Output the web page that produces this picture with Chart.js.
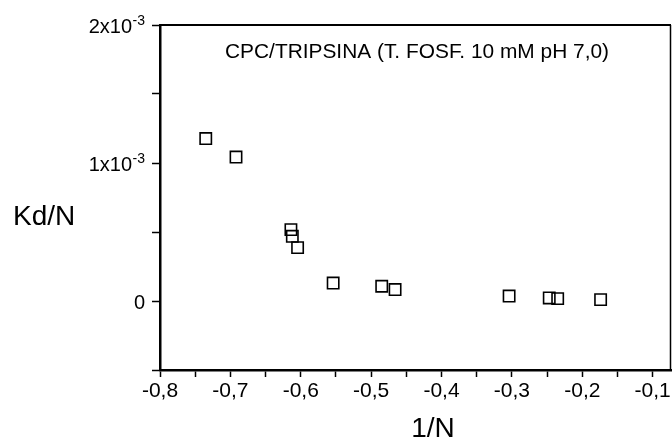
<!DOCTYPE html>
<html>
<head>
<meta charset="utf-8">
<script src="https://cdn.jsdelivr.net/npm/chart.js@4/dist/chart.umd.min.js"></script>
<style>
  html, body { margin: 0; padding: 0; background: #fff; }
  #wrap { width: 672px; height: 442px; }
</style>
</head>
<body>
<div id="wrap"><canvas id="c" width="672" height="442"></canvas></div>
<script>
// ---- data ----
const xValues = [-0.735, -0.692, -0.614, -0.612, -0.6045, -0.554, -0.485, -0.466, -0.304, -0.247, -0.235, -0.174];
const yValues = [1.177e-3, 1.043e-3, 0.517e-3, 0.469e-3, 0.387e-3, 0.13e-3, 0.107e-3, 0.083e-3, 0.036e-3, 0.022e-3, 0.017e-3, 0.010e-3];
const xTicks = [-0.8, -0.75, -0.7, -0.65, -0.6, -0.55, -0.5, -0.45, -0.4, -0.35, -0.3, -0.25, -0.2, -0.15, -0.1];
const yTicks = [-0.5e-3, 0, 0.5e-3, 1e-3, 1.5e-3, 2e-3];
const yTickLabels = [
  { value: 0, mant: '0', exp: '' },
  { value: 1e-3, mant: '1x10', exp: '-3' },
  { value: 2e-3, mant: '2x10', exp: '-3' }
];
const xTitle = '1/N';
const yTitle = 'Kd/N';
const annotation = 'CPC/TRIPSINA (T. FOSF. 10 mM pH 7,0)';

const FONT = '"Liberation Sans", Arial, Helvetica, sans-serif';
const points = xValues.map((x, i) => ({ x: x, y: yValues[i] }));

function isMajorX(v) { return Math.abs(v * 10 - Math.round(v * 10)) < 1e-6; }

const overlay = {
  id: 'overlay',
  afterDraw(chart) {
    const ctx = chart.ctx;
    const a = chart.chartArea;
    const ys = chart.scales.y;
    ctx.save();
    // top and right frame lines
    ctx.strokeStyle = '#000';
    ctx.lineWidth = 2;
    ctx.beginPath();
    ctx.moveTo(a.left, a.top);
    ctx.lineTo(a.right, a.top);
    ctx.stroke();
    ctx.lineWidth = 1.5;
    ctx.beginPath();
    ctx.moveTo(a.right - 0.5, a.top);
    ctx.lineTo(a.right - 0.5, a.bottom);
    ctx.stroke();

    // y tick labels with superscript exponent
    ctx.fillStyle = '#000';
    ctx.textBaseline = 'alphabetic';
    ctx.textAlign = 'right';
    const rightEdge = a.left - 15;
    yTickLabels.forEach(t => {
      const py = ys.getPixelForValue(t.value);
      const base = py + 8;
      let x = rightEdge;
      if (t.exp) {
        ctx.font = '14px ' + FONT;
        ctx.fillText(t.exp, x, base - 8);
        x -= ctx.measureText(t.exp).width + 0.5;
      }
      ctx.font = '20px ' + FONT;
      ctx.fillText(t.mant, x, base);
    });

    // axis titles
    ctx.font = '28px ' + FONT;
    ctx.textAlign = 'left';
    ctx.fillText(yTitle, 13, 225);
    ctx.textAlign = 'center';
    ctx.fillText(xTitle, 433, 437);

    // annotation
    ctx.font = '21px ' + FONT;
    ctx.textAlign = 'left';
    ctx.fillText(annotation, 225, 58, 384);
    ctx.restore();
  }
};

new Chart(document.getElementById('c'), {
  type: 'scatter',
  data: {
    datasets: [{
      data: points,
      pointStyle: 'rect',
      pointRadius: 8,
      pointHoverRadius: 8,
      borderColor: '#000',
      backgroundColor: 'rgba(0,0,0,0)',
      pointBorderWidth: 1.6
    }]
  },
  options: {
    responsive: false,
    devicePixelRatio: 1,
    animation: false,
    events: [],
    layout: { autoPadding: false, padding: { left: 0, right: 1, top: 25, bottom: 0 } },
    plugins: { legend: { display: false }, tooltip: { enabled: false }, title: { display: false } },
    scales: {
      x: {
        type: 'linear',
        min: -0.8,
        max: -0.074,
        afterFit: s => { s.height = 72; s.paddingLeft = 0; s.paddingRight = 0; },
        afterBuildTicks: s => { s.ticks = xTicks.map(v => ({ value: v })); },
        border: { display: true, color: '#000', width: 2.5 },
        grid: { drawOnChartArea: false, drawTicks: true, tickLength: 7, tickColor: '#000', tickWidth: 1.5 },
        ticks: {
          color: '#000',
          padding: 2,
          maxRotation: 0,
          autoSkip: false,
          font: { family: FONT, size: 21 },
          callback: v => isMajorX(v) ? v.toFixed(1).replace('.', ',') : ''
        }
      },
      y: {
        type: 'linear',
        min: -0.5e-3,
        max: 2e-3,
        afterFit: s => { s.width = 160; s.paddingTop = 0; s.paddingBottom = 0; },
        afterBuildTicks: s => { s.ticks = yTicks.map(v => ({ value: v })); },
        border: { display: true, color: '#000', width: 2.5 },
        grid: { drawOnChartArea: false, drawTicks: true, tickLength: 8, tickColor: '#000', tickWidth: 1.5 },
        ticks: { display: false }
      }
    }
  },
  plugins: [overlay]
});
</script>
</body>
</html>
